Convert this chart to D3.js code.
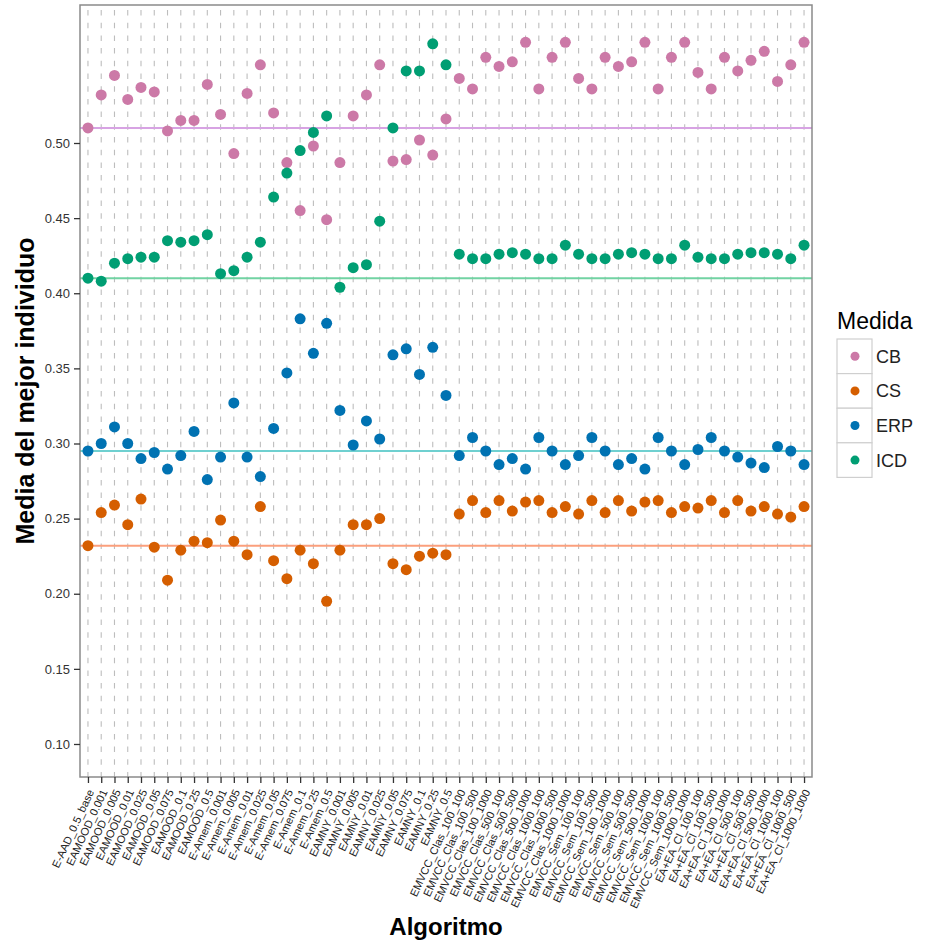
<!DOCTYPE html>
<html>
<head>
<meta charset="utf-8">
<script src="https://cdn.jsdelivr.net/npm/d3@7"></script>
<style>
    body { margin: 0; background: #fff; }
    text { font-family: "Liberation Sans", Arial, sans-serif; }
</style>
</head>
<body>
<div id="main"></div>
<script>
// categorias del eje x (algoritmos)
let groupA = ["EAMOOD_", "E-Amem_", "EAMNY_"];
let paramsA = ["0.001", "0.005", "0.01", "0.025", "0.05", "0.075", "0.1", "0.25", "0.5"];
let groupB = ["EMVCC_Clas_", "EMVCC_Sem_", "EA+EA_Cl_"];
let paramsB = ["100_100", "100_500", "100_1000", "500_100", "500_500", "500_1000", "1000_100", "1000_500", "1000_1000"];

let algoritmos = ["E-AAD_0.5_base"];
groupA.forEach(g => paramsA.forEach(p => algoritmos.push(g + p)));
groupB.forEach(g => paramsB.forEach(p => algoritmos.push(g + p)));

let medidas = ["CB", "CS", "ERP", "ICD"];

let cb = [0.510, 0.532, 0.545, 0.529, 0.537, 0.534, 0.508, 0.515, 0.515, 0.539,
    0.519, 0.493, 0.533, 0.552, 0.520, 0.487, 0.455, 0.498, 0.449, 0.487,
    0.518, 0.532, 0.552, 0.488, 0.489, 0.502, 0.492, 0.516, 0.543, 0.536,
    0.557, 0.551, 0.554, 0.567, 0.536, 0.557, 0.567, 0.543, 0.536, 0.557,
    0.551, 0.554, 0.567, 0.536, 0.557, 0.567, 0.547, 0.536, 0.557, 0.548,
    0.555, 0.561, 0.541, 0.552, 0.567];

let cs = [0.232, 0.254, 0.259, 0.246, 0.263, 0.231, 0.209, 0.229, 0.235, 0.234,
    0.249, 0.235, 0.226, 0.258, 0.222, 0.210, 0.229, 0.220, 0.195, 0.229,
    0.246, 0.246, 0.250, 0.220, 0.216, 0.225, 0.227, 0.226, 0.253, 0.262,
    0.254, 0.262, 0.255, 0.261, 0.262, 0.254, 0.258, 0.253, 0.262, 0.254,
    0.262, 0.255, 0.261, 0.262, 0.254, 0.258, 0.257, 0.262, 0.254, 0.262,
    0.255, 0.258, 0.253, 0.251, 0.258];

let erp = [0.295, 0.300, 0.311, 0.300, 0.290, 0.294, 0.283, 0.292, 0.308, 0.276,
    0.291, 0.327, 0.291, 0.278, 0.310, 0.347, 0.383, 0.360, 0.380, 0.322,
    0.299, 0.315, 0.303, 0.359, 0.363, 0.346, 0.364, 0.332, 0.292, 0.304,
    0.295, 0.286, 0.290, 0.283, 0.304, 0.295, 0.286, 0.292, 0.304, 0.295,
    0.286, 0.290, 0.283, 0.304, 0.295, 0.286, 0.296, 0.304, 0.295, 0.291,
    0.287, 0.284, 0.298, 0.295, 0.286];

let icd = [0.410, 0.408, 0.420, 0.423, 0.424, 0.424, 0.435, 0.434, 0.435, 0.439,
    0.413, 0.415, 0.424, 0.434, 0.464, 0.480, 0.495, 0.507, 0.518, 0.404,
    0.417, 0.419, 0.448, 0.510, 0.548, 0.548, 0.566, 0.552, 0.426, 0.423,
    0.423, 0.426, 0.427, 0.426, 0.423, 0.423, 0.432, 0.426, 0.423, 0.423,
    0.426, 0.427, 0.426, 0.423, 0.423, 0.432, 0.424, 0.423, 0.423, 0.426,
    0.427, 0.427, 0.426, 0.423, 0.432];

let yTicks = [0.10, 0.15, 0.20, 0.25, 0.30, 0.35, 0.40, 0.45, 0.50];

let valores = { CB: cb, CS: cs, ERP: erp, ICD: icd };

let puntoColor = d3.scaleOrdinal()
    .domain(medidas)
    .range(["#CC79A7", "#D55E00", "#0072B2", "#009E73"]);

// lineas de referencia (valor del primer algoritmo)
let lineaColor = d3.scaleOrdinal()
    .domain(medidas)
    .range(["#d7a3e3", "#fb9f7c", "#6fd0d0", "#72d3a3"]);

let width = 926, height = 942;
let panel = { left: 80, right: 812, top: 5, bottom: 777 };

let svg = d3.select('#main').append('svg')
    .attr('width', width)
    .attr('height', height);

let x = d3.scalePoint()
    .domain(algoritmos)
    .range([panel.left, panel.right])
    .padding(0.6);

let y = d3.scaleLinear()
    .domain([0.07803, 0.59185])
    .range([panel.bottom, panel.top]);

// grid vertical discontinuo
svg.append('g')
    .selectAll('line')
    .data(algoritmos)
    .enter()
    .append('line')
    .attr('x1', d => x(d)).attr('x2', d => x(d))
    .attr('y1', panel.top + 5).attr('y2', panel.bottom)
    .attr('stroke', '#bdbdbd')
    .attr('stroke-width', 1.1)
    .attr('stroke-dasharray', '5.5,7.2');

// hlines
svg.append('g')
    .selectAll('line')
    .data(medidas)
    .enter()
    .append('line')
    .attr('x1', panel.left).attr('x2', panel.right)
    .attr('y1', d => y(valores[d][0])).attr('y2', d => y(valores[d][0]))
    .attr('stroke', d => lineaColor(d))
    .attr('stroke-width', 2);

// puntos
let puntos = [];
medidas.forEach(m => {
    valores[m].forEach((v, i) => puntos.push({ medida: m, alg: algoritmos[i], v: v }));
});

svg.append('g')
    .selectAll('circle')
    .data(puntos)
    .enter()
    .append('circle')
    .attr('cx', d => x(d.alg))
    .attr('cy', d => y(d.v))
    .attr('r', 5.5)
    .attr('fill', d => puntoColor(d.medida));

// borde del panel
svg.append('rect')
    .attr('x', panel.left).attr('y', panel.top)
    .attr('width', panel.right - panel.left)
    .attr('height', panel.bottom - panel.top)
    .attr('fill', 'none')
    .attr('stroke', '#8a8a8a')
    .attr('stroke-width', 1.5);

// eje y
let yAxis = svg.append('g')
    .attr('transform', `translate(${panel.left},0)`)
    .call(d3.axisLeft(y).tickValues(yTicks).tickFormat(d3.format('.2f')).tickSize(6).tickPadding(4));
yAxis.select('.domain').remove();
yAxis.selectAll('.tick line').attr('stroke', '#333').attr('stroke-width', 1.3);
yAxis.selectAll('.tick text')
    .attr('fill', '#333')
    .style('font-size', '13px')
    .style('font-family', '"Liberation Sans", Arial, sans-serif');

// eje x
let xAxis = svg.append('g')
    .attr('transform', `translate(0,${panel.bottom})`)
    .call(d3.axisBottom(x).tickSize(6).tickFormat(''));
xAxis.select('.domain').remove();
xAxis.selectAll('.tick line').attr('stroke', '#333').attr('stroke-width', 1.3);

svg.append('g')
    .selectAll('text')
    .data(algoritmos)
    .enter()
    .append('text')
    .attr('transform', d => `translate(${x(d) + 3},${panel.bottom + 13}) rotate(-65)`)
    .attr('text-anchor', 'end')
    .attr('dy', '0.35em')
    .attr('fill', '#222')
    .style('font-size', '11px')
    .text(d => d);

// titulos
svg.append('text')
    .attr('transform', `translate(34,${(panel.top + panel.bottom) / 2}) rotate(-90)`)
    .attr('text-anchor', 'middle')
    .style('font-size', '25px')
    .style('font-weight', 'bold')
    .text('Media del mejor individuo');

svg.append('text')
    .attr('x', (panel.left + panel.right) / 2)
    .attr('y', 935)
    .attr('text-anchor', 'middle')
    .style('font-size', '24px')
    .style('font-weight', 'bold')
    .text('Algoritmo');

// leyenda
let legend = svg.append('g').attr('transform', 'translate(837,329)');
legend.append('text')
    .attr('x', 0).attr('y', 0)
    .style('font-size', '23px')
    .text('Medida');

let keyH = 34.6;
let item = legend.selectAll('g.key')
    .data(medidas)
    .enter()
    .append('g')
    .attr('class', 'key')
    .attr('transform', (d, i) => `translate(0,${10 + i * keyH})`);

item.append('rect')
    .attr('width', 35).attr('height', keyH)
    .attr('fill', '#fff')
    .attr('stroke', '#cfcfcf')
    .attr('stroke-width', 1.2);

item.append('circle')
    .attr('cx', 18).attr('cy', keyH / 2)
    .attr('r', 4.5)
    .attr('fill', d => puntoColor(d));

item.append('text')
    .attr('x', 39).attr('y', keyH / 2)
    .attr('dy', '0.36em')
    .attr('fill', '#222')
    .style('font-size', '18px')
    .text(d => d);
</script>
</body>
</html>
